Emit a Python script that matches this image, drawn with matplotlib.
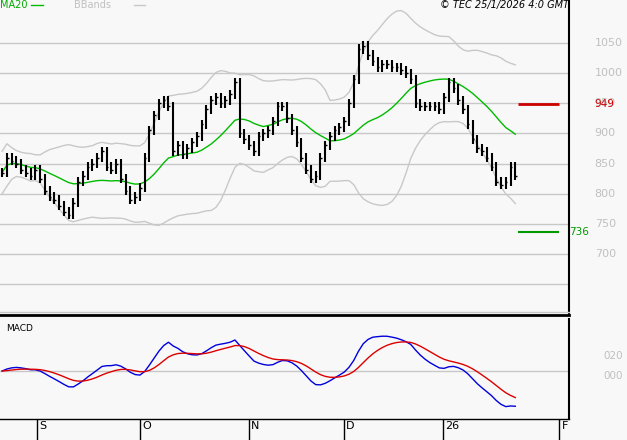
"""
Price chart with MA20, Bollinger bands and MACD panel
"""

import numpy as np
import pandas as pd
import matplotlib
matplotlib.use("Agg")
import matplotlib.pyplot as plt

# closing prices, one per trading day
close = [835, 860, 855, 850, 840, 835, 830, 840, 825, 805, 795, 790, 780, 770, 765,
         785, 820, 830, 845, 850, 860, 870, 845, 840, 850, 825, 805, 790, 795, 810,
         860, 905, 930, 950, 955, 945, 870, 880, 865, 875, 885, 895, 915, 940, 955,
         960, 950, 955, 965, 985, 900, 890, 880, 870, 895, 900, 905, 920, 945, 945,
         925, 905, 885, 860, 840, 825, 830, 860, 880, 895, 905, 910, 920, 950, 990,
         1040, 1045, 1030, 1020, 1010, 1015, 1015, 1010, 1010, 1005, 1000, 990, 950, 945,
         945, 945, 945, 940, 960, 985, 975, 955, 940, 915, 890, 875, 870, 860, 845,
         820, 815, 820, 845, 830]
wick = 8
tick_labels = ["S", "O", "N", "D", "26", "F"]
tick_pos = [7.4, 29.1, 52.0, 72.0, 92.8, 117.3]  # bar index where each month starts
support = 736
resistance = 949

s = pd.Series(close, dtype=float)
n = len(s)

ma20 = s.rolling(20, min_periods=1).mean()
sd = s.rolling(20, min_periods=2).std().bfill()
upper = ma20 + 2 * sd
lower = ma20 - 2 * sd
macd = s.ewm(span=12, adjust=False).mean() - s.ewm(span=26, adjust=False).mean()
signal = macd.ewm(span=9, adjust=False).mean()

bg = "#f8f8f8"
fig = plt.figure(figsize=(6.27, 4.40), dpi=100, facecolor=bg)
W, H = 627, 440
ax = fig.add_axes([0, 1 - 315 / H, 569 / W, 315 / H], facecolor=bg)
ax2 = fig.add_axes([0, 21 / H, 569 / W, 100 / H], facecolor=bg)

x = np.arange(n)
xlim = (-0.45, 119.3)

# price panel
for lvl in range(650, 1051, 50):
    ax.axhline(lvl, color="#c8c8c8", lw=1, zorder=0)
ax.plot(x, upper, color="#c8c8c8", lw=1)
ax.plot(x, lower, color="#c8c8c8", lw=1)
ax.plot(x, ma20, color="#00bb00", lw=1)
opens = s.shift(1).fillna(s.iloc[0])
for i in range(n):
    o, c = opens[i], s[i]
    ax.vlines(i, min(o, c) - wick, max(o, c) + wick, color="black", lw=1.5)
    ax.hlines(c, i, i + 0.35, color="black", lw=1)
ax.hlines(resistance, 108.5, 117.3, color="#cc0000", lw=2)
ax.hlines(support, 108.5, 117.3, color="#009900", lw=1.5)
ax.set_xlim(*xlim)
ax.set_ylim(598, 1122)
ax.set_xticks([])
ax.set_yticks([])
for side in ["top", "left", "bottom"]:
    ax.spines[side].set_visible(False)
ax.spines["right"].set_linewidth(1.5)
for lvl in range(700, 1051, 50):
    ax.text(1.045, lvl, str(lvl), transform=ax.get_yaxis_transform(), color="#c0c0c0",
            fontsize=8, ha="left", va="center")
ax.text(1.045, resistance, str(resistance), transform=ax.get_yaxis_transform(),
        color="#cc0000", fontsize=7.5, ha="left", va="center")
ax.text(1.0, support, str(support), transform=ax.get_yaxis_transform(),
        color="#009900", fontsize=7.5, ha="left", va="center")
ax.text(0.0, 1.0, "MA20", transform=ax.transAxes, color="#00aa00", fontsize=7, va="top")
ax.plot([0.055, 0.075], [0.985, 0.985], transform=ax.transAxes, color="#00bb00", lw=1)
ax.text(0.13, 1.0, "BBands", transform=ax.transAxes, color="#c0c0c0", fontsize=7, va="top")
ax.plot([0.235, 0.255], [0.985, 0.985], transform=ax.transAxes, color="#c8c8c8", lw=1)
ax.text(1.0, 1.0, "\u00a9 TEC 25/1/2026 4:0 GMT", transform=ax.transAxes, fontsize=7,
        style="italic", ha="right", va="top")
fig.add_artist(plt.Line2D([0, 569 / W], [1 - 315 / H] * 2, color="black", lw=2))
fig.add_artist(plt.Line2D([0, 569 / W], [1 - 312 / H] * 2, color="#c8c8c8", lw=1))

# MACD panel
ax2.axhline(0, color="#c8c8c8", lw=1)
ax2.plot(x, macd, color="#0000dd", lw=1)
ax2.plot(x, signal, color="#dd0000", lw=1)
ax2.set_xlim(*xlim)
ax2.set_ylim(-48, 52)
ax2.set_yticks([])
for side in ["top", "left"]:
    ax2.spines[side].set_visible(False)
ax2.spines["right"].set_linewidth(1.5)
ax2.spines["bottom"].set_linewidth(1)
ax2.text(0.01, 0.95, "MACD", transform=ax2.transAxes, fontsize=6.5, va="top")
for val, lab in [(20, "020"), (0, "000")]:
    ax2.text(1.06, val - 5, lab, transform=ax2.get_yaxis_transform(), color="#c0c0c0",
             fontsize=7.5, ha="left", va="center")

ax2.set_xticks(tick_pos)
ax2.set_xticklabels([])
ax2.tick_params(axis="x", length=20, width=1, direction="out")
for t, lab in zip(tick_pos, tick_labels):
    ax2.text(t + 0.4, -0.02, lab, transform=ax2.get_xaxis_transform(), fontsize=8,
             ha="left", va="top")

fig.savefig("out.png", dpi=100, facecolor=bg)
